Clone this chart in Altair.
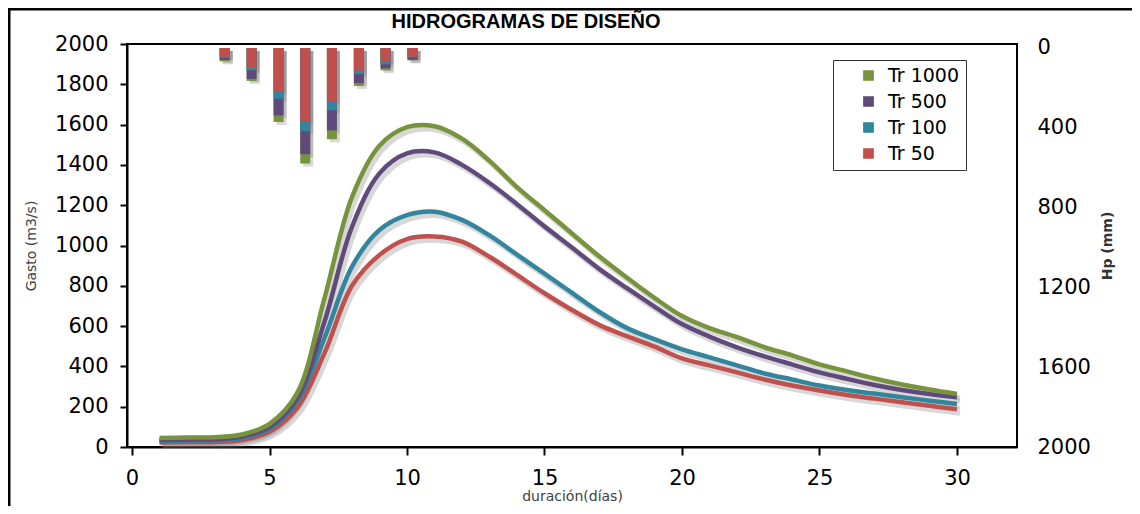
import altair as alt
import pandas as pd

# ---------------- data ----------------
days = list(range(1, 31))
tr1000 = [45, 47, 48, 62, 115, 266, 739, 1240, 1495, 1587, 1592, 1530, 1420, 1290, 1175,
          1060, 945, 840, 740, 650, 590, 545, 495, 455, 410, 375, 340, 310, 285, 263]
tr500 = [35, 37, 38, 52, 100, 241, 622, 1093, 1358, 1457, 1462, 1400, 1310, 1205, 1095,
         990, 883, 788, 697, 610, 548, 495, 450, 410, 370, 338, 308, 283, 263, 247]
tr100 = [30, 32, 33, 45, 90, 225, 541, 895, 1077, 1151, 1168, 1127, 1050, 955, 860,
         765, 670, 590, 535, 485, 445, 405, 365, 335, 305, 283, 265, 247, 230, 213]
tr50 = [22, 24, 25, 35, 75, 193, 466, 800, 953, 1032, 1045, 1019, 944, 854, 763,
        680, 605, 550, 498, 440, 405, 370, 335, 305, 280, 258, 240, 222, 205, 187]

bar_x = [3.37, 4.35, 5.33, 6.3, 7.27, 8.25, 9.22, 10.2]
hp_tr1000 = [67, 165, 371, 579, 457, 190, 111, 62]
hp_tr500 = [60, 155, 338, 532, 413, 176, 102, 59]
hp_tr100 = [50, 111, 255, 418, 312, 131, 81, 47]
hp_tr50 = [44, 100, 218, 368, 267, 114, 67, 44]

series = ["Tr 1000", "Tr 500", "Tr 100", "Tr 50"]
colors = ["#77933C", "#604A7B", "#31859C", "#C0504D"]

x_ticks = [0, 5, 10, 15, 20, 25, 30]
left_ticks = list(range(0, 2001, 200))
right_ticks = [0, 400, 800, 1200, 1600, 2000]
chart_title = "HIDROGRAMAS DE DISEÑO"

# lines: draw Tr 50 first so Tr 1000 ends on top
line_rows = []
for name, vals in [("Tr 50", tr50), ("Tr 100", tr100), ("Tr 500", tr500), ("Tr 1000", tr1000)]:
    for d, v in zip(days, vals):
        line_rows.append({"dia": d, "gasto": v, "serie": name})
lines_df = pd.DataFrame(line_rows)

# bars: largest first, overlapping
bar_rows = []
for name, vals in [("Tr 1000", hp_tr1000), ("Tr 500", hp_tr500), ("Tr 100", hp_tr100), ("Tr 50", hp_tr50)]:
    for bx, v in zip(bar_x, vals):
        bar_rows.append({"dia": bx, "hp": v, "base": 0, "serie": name})
bars_df = pd.DataFrame(bar_rows)

FONT = "DejaVu Sans"

xscale = alt.Scale(domain=[0, 32], nice=False, zero=False)
xaxis = alt.Axis(values=x_ticks, title="duración(días)", labelFontSize=21, labelFont=FONT,
                 labelColor="black", tickSize=8, tickColor="black", tickWidth=2,
                 domainColor="black", domainWidth=2, labelPadding=12, grid=False,
                 titleFontSize=14, titleFont=FONT, titleFontWeight="normal",
                 titleColor="#404040", titlePadding=1)

legend = alt.Legend(title=None, orient="none", legendX=706, legendY=16,
                    symbolType="square", symbolSize=85,
                    labelFontSize=19, labelFont=FONT, labelColor="black",
                    padding=6, rowPadding=6, symbolOffset=20,
                    labelOffset=10, strokeColor="#333333",
                    fillColor="white")
color = alt.Color("serie:N", scale=alt.Scale(domain=series, range=colors), legend=legend)

yright_scale = alt.Scale(domain=[-20, 2000], reverse=True, nice=False, zero=False)
yright_axis = alt.Axis(orient="right", values=right_ticks, format="d", title="Hp (mm)",
                       labelFontSize=21, labelFont=FONT, labelColor="black",
                       tickSize=0, labelPadding=20, domain=False, grid=False,
                       titleAngle=270, titleFontSize=14, titleFont=FONT,
                       titleFontWeight="bold", titleColor="#333333", titlePadding=24)

bar_shadow = alt.Chart(bars_df).mark_bar(size=10, color="#7f7f7f", opacity=0.3,
                                          xOffset=3, yOffset=3, y2Offset=3).encode(
    x=alt.X("dia:Q", scale=xscale, axis=xaxis),
    y=alt.Y("hp:Q", scale=yright_scale, axis=yright_axis),
    y2="base:Q",
)
bars = alt.Chart(bars_df).mark_bar(size=10).encode(
    x=alt.X("dia:Q", scale=xscale, axis=xaxis),
    y=alt.Y("hp:Q", scale=yright_scale, axis=yright_axis),
    y2="base:Q",
    color=color,
)
bar_layer = alt.layer(bar_shadow, bars)

yleft_scale = alt.Scale(domain=[0, 2000], nice=False)
yleft_axis = alt.Axis(orient="left", values=left_ticks, format="d", title="Gasto (m3/s)",
                      labelFontSize=21, labelFont=FONT, labelColor="black",
                      tickSize=7, tickColor="black", tickWidth=2, domainColor="black",
                      domainWidth=2, labelPadding=12, grid=False,
                      titleFontSize=14, titleFont=FONT, titleFontWeight="normal",
                      titleColor="#404040", titlePadding=16)

line_shadow = alt.Chart(lines_df).mark_line(interpolate="catmull-rom", strokeWidth=5,
                                             color="#7a7a7a", opacity=0.3,
                                             xOffset=3, yOffset=4).encode(
    x=alt.X("dia:Q", scale=xscale, axis=xaxis),
    y=alt.Y("gasto:Q", scale=yleft_scale, axis=yleft_axis),
    detail="serie:N",
)
lines = alt.Chart(lines_df).mark_line(interpolate="catmull-rom", strokeWidth=4.5).encode(
    x=alt.X("dia:Q", scale=xscale, axis=xaxis),
    y=alt.Y("gasto:Q", scale=yleft_scale, axis=yleft_axis),
    color=color,
)
line_layer = alt.layer(line_shadow, lines)

deco_df = pd.DataFrame({"k": [0]})
frame = alt.Chart(deco_df).mark_rect(
    fill="white", fillOpacity=0, stroke="black", strokeWidth=3).encode(
    x=alt.value(-118), x2=alt.value(1200), y=alt.value(-35), y2=alt.value(700)
)
title_mark = alt.Chart(deco_df).mark_text(
    font="Liberation Sans", fontSize=20, fontWeight="bold", color="black",
    align="center", baseline="middle").encode(
    x=alt.value(399), y=alt.value(-22), text=alt.value(chart_title)
)

chart = alt.layer(bar_layer, line_layer, frame, title_mark).resolve_scale(
    y="independent"
).properties(
    width=890, height=403,
    padding={"left": 119, "top": 36, "right": 115, "bottom": 59},
    autosize=alt.AutoSizeParams(type="none"),
    background="white",
).configure_view(stroke="black", strokeWidth=2)

chart.save("out.html", embed_options={"renderer": "svg", "actions": False})
